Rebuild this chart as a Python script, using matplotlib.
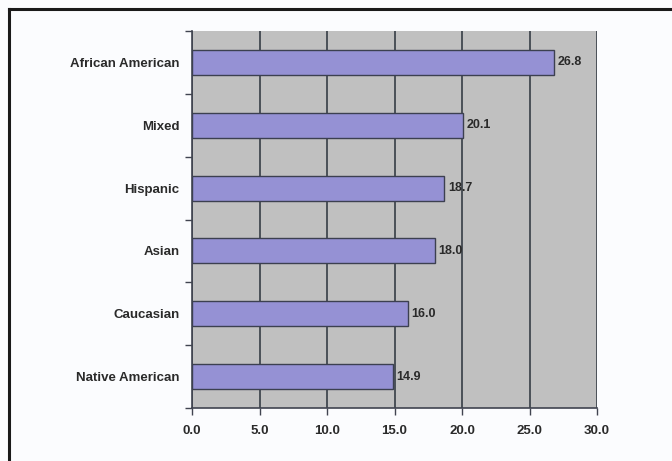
import matplotlib
matplotlib.use("Agg")
import matplotlib.pyplot as plt
from matplotlib.lines import Line2D

categories = ["Native American", "Caucasian", "Asian", "Hispanic", "Mixed", "African American"]
values = [14.9, 16.0, 18.0, 18.7, 20.1, 26.8]
xticks = [0, 5, 10, 15, 20, 25, 30]

plt.rcParams["font.family"] = ["Liberation Sans", "DejaVu Sans"]

W, H = 672, 461
fig = plt.figure(figsize=(W / 100, H / 100), dpi=100)
fig.patch.set_facecolor("#fbfcfe")

# outer frame (left and top edges visible)
fig.add_artist(Line2D([9 / W, 9 / W], [0, 1 - 9 / H], transform=fig.transFigure,
                      color="#1a1a1a", lw=2.2))
fig.add_artist(Line2D([9 / W, 1], [1 - 9 / H, 1 - 9 / H], transform=fig.transFigure,
                      color="#1a1a1a", lw=2.2))

left, right, top, bottom = 192, 597, 31, 408
ax = fig.add_axes([left / W, 1 - bottom / H, (right - left) / W, (bottom - top) / H])
ax.set_facecolor("#c0c0c0")

y = list(range(len(categories)))
ax.barh(y, values, height=0.4, color="#9591d4", edgecolor="#3c4050", linewidth=1.0, zorder=3)
for yi, v in zip(y, values):
    ax.text(v + 0.25, yi, f"{v:.1f}", va="center", ha="left", fontsize=9,
            fontweight="bold", color="#2a2a2a", zorder=4)

ax.set_xlim(0, 30)
ax.set_ylim(-0.5, len(categories) - 0.5)
ax.set_xticks(xticks)
ax.set_xticklabels([f"{t:.1f}" for t in xticks], fontsize=9.5, fontweight="bold", color="#2a2a2a")
ax.set_yticks(y)
ax.set_yticklabels(categories, fontsize=9.5, fontweight="bold", color="#2a2a2a")
ax.tick_params(axis="y", length=0, pad=9)
ax.set_yticks([i + 0.5 for i in range(-1, len(categories))], minor=True)
ax.tick_params(axis="y", which="minor", length=5, color="#404450", width=1)
ax.tick_params(axis="x", length=5, color="#404450", width=1, pad=7)

ax.grid(axis="x", color="#4a5058", linewidth=1.4, zorder=1)
ax.set_axisbelow(True)
for side in ["top", "right"]:
    ax.spines[side].set_visible(False)
for side in ["left", "bottom"]:
    ax.spines[side].set_color("#404450")
    ax.spines[side].set_linewidth(1.2)

fig.savefig("out.png", dpi=100, facecolor=fig.get_facecolor())
